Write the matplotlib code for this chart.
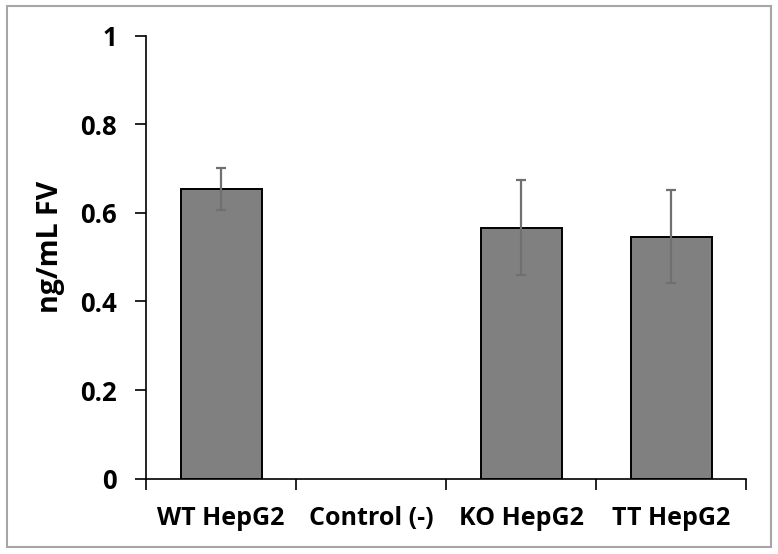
import numpy as np
import matplotlib
matplotlib.use('Agg')
import matplotlib.pyplot as plt
from matplotlib.patches import Rectangle

categories = ['WT HepG2', 'Control (-)', 'KO HepG2', 'TT HepG2']
values = [0.654, 0.0, 0.567, 0.546]
errors = [0.048, 0.0, 0.108, 0.105]
yticks = [0, 0.2, 0.4, 0.6, 0.8, 1]
ytick_labels = ['0', '0.2', '0.4', '0.6', '0.8', '1']

plt.rcParams['font.family'] = ['Open Sans', 'DejaVu Sans']
plt.rcParams['font.weight'] = 'bold'

fig = plt.figure(figsize=(7.78, 5.54), dpi=100)
ax = fig.add_axes([0.1877, 0.1359, 0.9589 - 0.1877, 0.9356 - 0.1359])

x = np.arange(len(categories))
shown = [v > 0 for v in values]
xs = x[shown]
vs = np.array(values)[shown]
es = np.array(errors)[shown]
ax.bar(xs, vs, width=0.54, color='#808080', edgecolor='black', linewidth=1.4, zorder=2)
ax.errorbar(xs, vs, yerr=es, fmt='none', ecolor='#707070', elinewidth=1.6,
            capsize=3.5, capthick=1.6, zorder=3)

ax.set_xlim(-0.5, len(categories) - 0.5)
ax.set_ylim(0, 1)
ax.set_yticks(yticks)
ax.set_yticklabels(ytick_labels, fontsize=18.5, fontweight='bold')
ax.set_xticks(x)
ax.set_xticklabels(categories, fontsize=18, fontweight='bold')
ax.set_xticks(np.arange(-0.5, len(categories)), minor=True)
ax.tick_params(axis='x', which='major', length=0, pad=20)
ax.tick_params(axis='x', which='minor', length=8, width=1.2, direction='out')
ax.tick_params(axis='y', length=8, width=1.2, direction='out', pad=13)
ax.set_ylabel('ng/mL FV', fontsize=20.5, fontweight='bold', labelpad=11)
ax.yaxis.label.set_y(0.523)

for s in ['top', 'right']:
    ax.spines[s].set_visible(False)
for s in ['left', 'bottom']:
    ax.spines[s].set_linewidth(1.2)

fig.patches.append(Rectangle((7 / 778, 1 - 547 / 554), (771 - 7) / 778, (547 - 6) / 554,
                             transform=fig.transFigure, fill=False,
                             edgecolor='#a6a6a6', linewidth=1.5))

fig.savefig('out.png', dpi=100)
